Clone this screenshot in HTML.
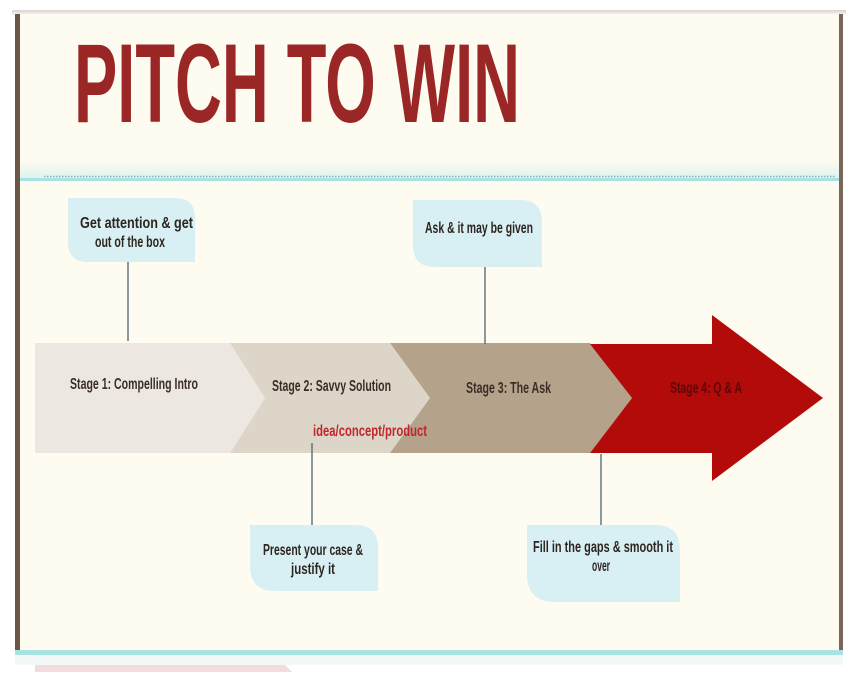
<!DOCTYPE html>
<html><head><meta charset="utf-8"><style>
html,body{margin:0;padding:0;background:#fff;}
svg{display:block;}
text{font-family:"Liberation Sans Narrow","Liberation Sans",sans-serif;font-weight:bold;}
</style></head><body>
<svg width="860" height="679" viewBox="0 0 860 679" xmlns="http://www.w3.org/2000/svg">
<defs>
<linearGradient id="sh" x1="0" y1="0" x2="0" y2="1"><stop offset="0" stop-color="#d8d2cc"/><stop offset="1" stop-color="#fff"/></linearGradient>
<linearGradient id="bd" x1="0" y1="0" x2="0" y2="1"><stop offset="0" stop-color="#fefbf0"/><stop offset="1" stop-color="#e0f3ef"/></linearGradient>
</defs>
<rect width="860" height="679" fill="#fff"/>
<rect x="12" y="10" width="834" height="6" fill="url(#sh)"/>
<rect x="15" y="14" width="828" height="640" fill="#fefbf0"/>
<rect x="15" y="14" width="5" height="640" fill="#6e5646"/>
<rect x="839" y="14" width="4" height="640" fill="#7a6658"/>
<rect x="20" y="160" width="819" height="18" fill="url(#bd)"/>
<line x1="44" y1="176.5" x2="835" y2="176.5" stroke="#7fb0b0" stroke-width="1.5" stroke-dasharray="1.5,1.5"/>
<rect x="20" y="178" width="819" height="3" fill="#a9e2e2"/>
<text x="74" y="122" font-size="112" fill="#9b2626" textLength="446" lengthAdjust="spacingAndGlyphs">PITCH TO WIN</text>

<polygon points="35,343 230,343 265,398 230,453 35,453" fill="#ece8e1"/>
<polygon points="230,343 390,343 430,398 390,453 230,453 265,398" fill="#ddd5c8"/>
<polygon points="390,343 590,343 632,398 590,453 390,453 430,398" fill="#b5a28b"/>
<polygon points="590,344 712,344 712,315 823,398 712,481 712,453 590,453 632,398" fill="#b30a0a"/>
<g font-size="16">
<text x="70" y="389" fill="#3a2e26" textLength="128" lengthAdjust="spacingAndGlyphs">Stage 1: Compelling Intro</text>
<text x="272" y="391" fill="#3a2e26" textLength="119" lengthAdjust="spacingAndGlyphs">Stage 2: Savvy Solution</text>
<text x="466" y="393" fill="#3a2e26" textLength="85" lengthAdjust="spacingAndGlyphs">Stage 3: The Ask</text>
<text x="670" y="393" fill="#5a0808" textLength="72" lengthAdjust="spacingAndGlyphs">Stage 4: Q &amp; A</text>
<text x="313" y="436" fill="#c0272d" textLength="114" lengthAdjust="spacingAndGlyphs">idea/concept/product</text>
</g>

<g stroke="#4f6470" stroke-width="1.3">
<line x1="128" y1="262" x2="128" y2="341"/>
<line x1="485" y1="266" x2="485" y2="344"/>
<line x1="312" y1="443" x2="312" y2="526"/>
<line x1="601" y1="454" x2="601" y2="526"/>
</g>
<g fill="#d8eff3">
<path d="M68,198 L175,198 Q195,198 195,218 L195,262 L88,262 Q68,262 68,242 Z"/>
<path d="M413,200 L520,200 Q542,200 542,222 L542,267 L435,267 Q413,267 413,245 Z"/>
<path d="M250,525 L355,525 Q378,525 378,548 L378,591 L275,591 Q250,591 250,566 Z"/>
<path d="M527,525 L655,525 Q680,525 680,550 L680,602 L555,602 Q527,602 527,574 Z"/>
</g>
<g font-size="16" fill="#2e2620">
<text x="80" y="228" textLength="113" lengthAdjust="spacingAndGlyphs">Get attention &amp; get</text>
<text x="95" y="247" textLength="70" lengthAdjust="spacingAndGlyphs">out of the box</text>
<text x="425" y="233" textLength="108" lengthAdjust="spacingAndGlyphs">Ask &amp; it may be given</text>
<text x="263" y="555" textLength="100" lengthAdjust="spacingAndGlyphs">Present your case &amp;</text>
<text x="291" y="574" textLength="44" lengthAdjust="spacingAndGlyphs">justify it</text>
<text x="533" y="552" textLength="140" lengthAdjust="spacingAndGlyphs">Fill in the gaps &amp; smooth it</text>
<text x="592" y="571" textLength="18" lengthAdjust="spacingAndGlyphs">over</text>
</g>
<rect x="15" y="650" width="828" height="5" fill="#a9e2e2"/>
<rect x="15" y="655" width="828" height="10" fill="#f2f9f8"/>
<polygon points="35,665 285,665 292,672 35,672" fill="#f2dcdc"/>
</svg>
</body></html>
